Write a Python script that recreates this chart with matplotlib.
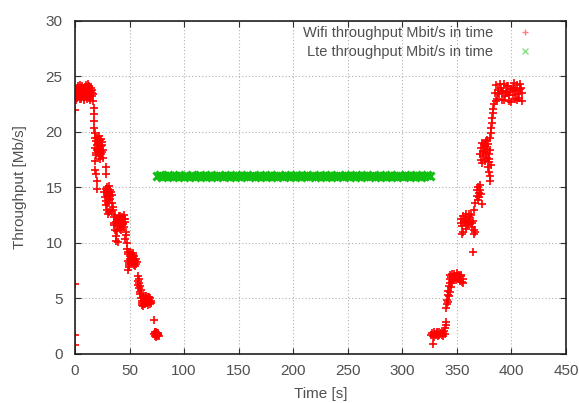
import numpy as np
import matplotlib
matplotlib.use("Agg")
import matplotlib.pyplot as plt

# ---- data ----
wifi_time = [
    # x = 0 start points
    0, 0, 0, 0.3,
    # first plateau ~23.5
    1, 1.5, 2, 2.5, 3, 3.5, 4, 4.5, 5, 5.5, 6, 6.5, 7, 7.5, 8, 8.5, 9, 9.5,
    10, 10.5, 11, 11.5, 12, 12.5, 13, 13.5, 14, 14.5, 15, 15.5, 16, 16.5,
    1.2, 2.2, 3.2, 4.2, 5.2, 6.2, 7.2, 8.2, 9.2, 10.2, 11.2, 12.2, 13.2, 14.2, 15.2, 16.2,
    # drop
    17, 17.3, 17.5, 17.8, 18, 18.2,
    # ~18.5 plateau
    18.5, 19, 19.5, 20, 20.5, 21, 21.5, 22, 22.5, 23, 23.5, 24, 24.5, 25, 25.5, 26,
    19.2, 20.2, 21.2, 22.2, 23.2, 24.2, 25.2, 21.7, 22.7,
    18.3, 18.6, 19.5, 19.8, 20.2, 28.5, 28.8,
    # ~14.3 plateau
    27, 27.5, 28, 28.5, 29, 29.5, 30, 30.5, 31, 31.5, 32, 32.5, 33, 33.5, 34, 34.5, 35,
    28.2, 29.2, 30.2, 31.2, 32.2, 33.2, 29.5, 30.5, 31.5,
    # ~11.8 plateau
    35.5, 36, 36.5, 37, 37.5, 38, 38.5, 39, 39.5, 40, 40.5, 41, 41.5, 42, 42.5, 43,
    43.5, 44, 44.5, 45, 45.5, 46, 46.5, 47,
    36.2, 37.2, 38.2, 39.2, 40.2, 41.2, 42.2, 43.2, 44.2, 45.2, 46.2,
    47.5, 48, 48.3,
    # ~8.6 plateau
    48.5, 49, 49.5, 50, 50.5, 51, 51.5, 52, 52.5, 53, 53.5, 54, 54.5, 55, 55.5, 56, 56.5,
    49.2, 50.2, 51.2, 52.2, 53.2, 54.2, 55.2, 48.8, 49.8,
    # ~6 strip
    57.5, 57.8, 58, 58.3, 58.6, 59, 59.3, 59.6, 60, 60.3,
    # ~4.8 plateau
    60.5, 61, 61.5, 62, 62.5, 63, 63.5, 64, 64.5, 65, 65.5, 66, 66.5, 67, 67.5, 68,
    68.5, 69, 69.5, 70, 61.2, 62.2, 63.2, 64.2, 65.2, 66.2, 67.2, 68.2, 69.2,
    72.5,
    # ~1.8 plateau
    72.5, 73, 73.5, 74, 74.5, 75, 75.5, 76, 76.5, 77, 73.2, 74.2, 75.2, 76.2,
    # ---- return ----
    328,
    326, 327, 328, 329, 330, 331, 332, 333, 334, 335, 336, 337, 338, 339,
    329.5, 331.5, 333.5, 335.5, 337.5,
    339.5, 340, 340.3,
    340.5, 341, 341.3, 341.7, 342, 342.3, 342.7, 343, 343.5, 344, 344.5,
    343.5, 344, 345, 346, 347, 348, 349, 350, 351, 352, 353, 354, 355, 356,
    345.5, 347.5, 349.5, 351.5, 353.5, 355.5,
    353.5, 354, 355, 356, 357, 358, 359, 360, 361, 362, 363, 364, 365, 366, 367,
    355.5, 357.5, 359.5, 361.5, 363.5, 365.5, 356.5, 358.5,
    365, 355,
    366, 367, 368, 368.5, 369, 369.5, 370, 370.5, 371, 371.5, 372, 373,
    371.5, 372, 372.5, 373, 373.5, 374, 374.5, 375, 375.5, 376, 376.5, 377, 377.5,
    378, 378.5, 379, 379.5, 380, 373.2, 375.2, 377.2, 379.2,
    378.5, 379.5, 380, 380.5, 381,
    380.5, 381, 381.5, 382, 382.5, 383, 383.5, 384,
    385, 386, 387, 388, 389, 390, 391, 392, 393, 394, 395, 396, 397, 398, 399, 400,
    401, 402, 403, 404, 405, 406, 407, 408, 409, 410,
    385.5, 387.5, 389.5, 391.5, 393.5, 395.5, 397.5, 399.5, 401.5, 403.5, 405.5,
    407.5, 409.5,
]
wifi_tput = [
    0.8, 1.7, 6.3, 22.0,
    23.4, 23.9, 23.1, 24.0, 23.6, 23.2, 23.8, 24.2, 23.5, 23.0, 23.7, 24.1, 23.3, 23.9,
    23.6, 22.9, 23.4, 24.0, 23.7, 23.2, 23.8, 24.3, 23.5, 23.1, 23.9, 23.6, 23.3, 24.0,
    23.7, 23.2, 23.5, 22.8,
    22.9, 23.6, 24.1, 23.0, 23.8, 23.3, 24.0, 23.1, 23.7, 24.2, 23.0, 23.6, 24.1, 22.9, 23.8, 23.4,
    22.2, 21.6, 21.0, 20.4, 19.9, 19.5,
    18.6, 19.2, 18.1, 18.8, 19.5, 18.3, 18.9, 17.8, 19.3, 18.5, 18.0, 18.7, 19.1, 18.2, 17.7, 18.4,
    17.9, 18.4, 19.0, 18.6, 17.6, 19.4, 18.8, 19.6, 18.1,
    17.4, 16.6, 16.2, 15.6, 14.9, 16.8, 16.2,
    14.6, 14.1, 14.9, 13.8, 14.5, 15.0, 14.2, 14.7, 13.9, 14.4, 14.8, 14.0, 14.6, 13.6, 14.3, 13.2, 13.0,
    13.4, 14.8, 13.6, 15.1, 14.2, 12.9, 13.0, 12.6, 12.8,
    12.3, 11.8, 12.5, 11.2, 10.6, 11.9, 12.2, 10.1, 11.5, 12.0, 11.7, 12.4, 11.3, 11.9, 12.1, 11.6,
    12.3, 11.8, 12.5, 11.4, 11.9, 12.2, 11.0, 10.7,
    11.6, 10.2, 11.1, 11.8, 12.4, 11.5, 11.2, 12.0, 11.7, 12.2, 10.4,
    10.0, 9.5, 9.2,
    8.4, 9.0, 8.2, 8.8, 9.2, 8.5, 8.9, 8.3, 8.7, 9.1, 8.6, 8.0, 8.8, 8.4, 8.6, 8.1, 8.3,
    7.8, 8.6, 9.1, 8.4, 8.9, 8.5, 7.9, 7.6, 8.0,
    7.0, 6.6, 6.2, 6.8, 5.9, 6.4, 5.6, 6.1, 5.4, 5.8,
    5.0, 4.6, 4.8, 4.3, 5.1, 4.7, 4.9, 5.2, 4.5, 4.8, 5.0, 4.6, 4.9, 5.1, 4.7, 4.9,
    4.5, 5.0, 4.8, 4.6, 4.4, 5.1, 4.5, 4.8, 5.2, 4.9, 4.4, 5.1, 4.7,
    3.1,
    1.8, 1.6, 1.9, 1.7, 2.0, 1.6, 1.8, 1.7, 1.9, 1.6, 2.0, 1.5, 1.9, 1.8,
    0.9,
    1.7, 1.9, 1.6, 2.0, 1.8, 1.7, 1.9, 1.6, 2.0, 1.8, 1.7, 1.9, 2.1, 1.8,
    1.5, 2.0, 1.7, 1.9, 1.6,
    2.3, 2.6, 2.9,
    4.1, 4.5, 4.9, 5.3, 4.7, 5.7, 5.2, 6.1, 5.6, 6.4, 6.0,
    6.8, 7.1, 6.9, 7.2, 6.7, 7.0, 6.9, 7.3, 6.8, 7.1, 6.6, 7.0, 6.5, 6.8,
    6.6, 7.2, 6.7, 6.9, 7.1, 6.4,
    11.8, 12.2, 11.5, 12.4, 11.9, 12.6, 12.1, 11.7, 12.3, 11.9, 12.5, 11.4, 12.0, 11.2, 11.0,
    11.0, 12.2, 11.6, 12.6, 11.8, 10.8, 12.0, 11.3,
    9.2, 10.8,
    13.0, 13.6, 14.2, 14.8, 13.9, 15.0, 14.5, 14.1, 14.8, 15.2, 14.4, 13.5,
    18.0, 18.6, 17.5, 19.0, 18.3, 17.8, 18.9, 18.2, 17.4, 18.7, 19.2, 18.1, 17.7,
    18.5, 18.9, 18.0, 17.3, 18.4, 17.2, 18.6, 19.3, 17.6,
    16.8, 16.4, 16.0, 15.6, 17.0,
    19.5, 19.9, 20.4, 20.8, 21.3, 21.7, 22.1, 22.5,
    23.5, 24.2, 23.0, 23.8, 23.4, 24.0, 22.9, 23.6, 24.3, 23.2, 23.7, 23.5, 24.1, 22.8,
    23.6, 23.9, 23.3, 24.4, 23.0, 23.7, 24.2, 23.4, 23.1, 23.9, 24.0, 23.5,
    22.8, 23.5, 24.3, 23.7, 22.9, 24.1, 23.3, 22.7, 24.0, 23.8, 22.9, 24.3, 22.8,
]

lte_time = np.arange(75.0, 325.1, 2.5)
lte_tput = [
    16.0, 16.1, 15.9, 16.0, 16.1, 16.0, 15.9, 16.0, 16.1, 16.0,
    15.9, 16.0, 16.0, 16.1, 15.9, 16.0, 16.1, 16.0, 15.9, 16.0,
    16.1, 16.0, 15.9, 16.0, 16.0, 16.1, 16.0, 15.9, 16.0, 16.1,
    16.0, 15.9, 16.0, 16.1, 16.0, 16.0, 15.9, 16.0, 16.1, 16.0,
    15.9, 16.0, 16.1, 16.0, 15.9, 16.0, 16.0, 16.1, 16.0, 15.9,
    16.0, 16.1, 16.0, 15.9, 16.0, 16.1, 16.0, 16.0, 15.9, 16.0,
    16.1, 16.0, 15.9, 16.0, 16.1, 16.0, 15.9, 16.0, 16.0, 16.1,
    16.0, 15.9, 16.0, 16.1, 16.0, 15.9, 16.0, 16.1, 16.0, 16.0,
    15.9, 16.0, 16.1, 16.0, 15.9, 16.0, 16.1, 16.0, 15.9, 16.0,
    16.0, 16.1, 16.0, 15.9, 16.0, 16.1, 16.0, 15.9, 16.0, 16.1,
    16.0,
]

x_ticks = [0, 50, 100, 150, 200, 250, 300, 350, 400, 450]
y_ticks = [0, 5, 10, 15, 20, 25, 30]

wifi_label = "Wifi throughput Mbit/s in time"
lte_label = "Lte throughput Mbit/s in time"
x_label = "Time [s]"
y_label = "Throughput [Mb/s]"

# ---- figure ----
plt.rcParams['font.family'] = ['Liberation Sans', 'DejaVu Sans']
text_color = '#505050'

fig = plt.figure(figsize=(5.79, 4.03), dpi=100)
ax = fig.add_axes([0.1295, 0.1216, 0.848, 0.8264])

ax.plot(wifi_time, wifi_tput, linestyle='none', marker='+', color='#ff0000',
        markersize=6, markeredgewidth=1.2, label=wifi_label)
ax.plot(lte_time, lte_tput, linestyle='none', marker='x', color='#10c010',
        markersize=5.5, markeredgewidth=2.2, label=lte_label)

ax.set_xlim(0, 450)
ax.set_ylim(0, 30)
ax.set_xticks(x_ticks)
ax.set_yticks(y_ticks)
ax.grid(True, linestyle=(0, (1, 2)), color='#b0b0b0', linewidth=0.8)
ax.set_axisbelow(True)

ax.tick_params(direction='in', length=4, width=0.8, top=True, right=True,
               labelsize=11, labelcolor=text_color, color='#303030')
ax.tick_params(axis='y', pad=9)
ax.tick_params(axis='x', pad=7)
for s in ax.spines.values():
    s.set_linewidth(1.2)
    s.set_color('#202020')

ax.set_xlabel(x_label, fontsize=11, color=text_color, labelpad=7)
ax.set_ylabel(y_label, fontsize=11, color=text_color, labelpad=13)

leg = ax.legend(loc='upper right', bbox_to_anchor=(0.965, 1.01), frameon=False,
                markerfirst=False, fontsize=10.5, handletextpad=1.2,
                labelspacing=0.35, borderaxespad=0.2, markerscale=0.75)
for t in leg.get_texts():
    t.set_color(text_color)
for h in leg.legend_handles:
    h.set_alpha(0.5)
    h.set_markeredgewidth(1.0)

fig.savefig('out.png', dpi=100)
